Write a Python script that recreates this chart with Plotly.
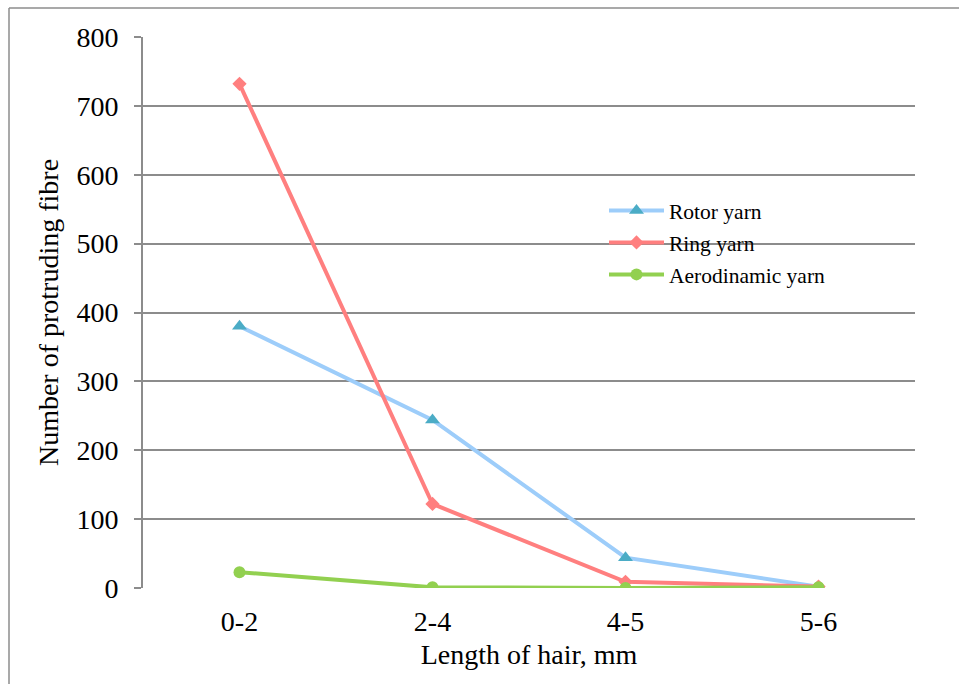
import plotly.graph_objects as go

categories = ["0-2", "2-4", "4-5", "5-6"]
rotor = [380, 244, 44, 2]
ring = [732, 122, 9, 2]
aero = [23, 1, 0, 1]
y_ticks = [0, 100, 200, 300, 400, 500, 600, 700, 800]

FONT = "Liberation Serif, DejaVu Serif, serif"

fig = go.Figure()
fig.add_trace(go.Scatter(x=categories, y=rotor, name="Rotor yarn", mode="lines+markers",
                         legendgroup="a",
                         line=dict(color="#9DCDFA", width=4),
                         marker=dict(symbol="triangle-up", size=13, color="#4BACC6")))
fig.add_trace(go.Scatter(x=categories, y=ring, name="Ring yarn", mode="lines+markers",
                         legendgroup="b",
                         line=dict(color="#FF7F7F", width=4),
                         marker=dict(symbol="diamond", size=11, color="#FF7F7F")))
fig.add_trace(go.Scatter(x=categories, y=aero, name="Aerodinamic yarn", mode="lines+markers",
                         legendgroup="c",
                         line=dict(color="#92D050", width=4),
                         marker=dict(symbol="circle", size=12, color="#92D050")))

W, H = 959, 684
L, R, T, B = 143, 44, 37, 96
pw, ph = W - L - R, H - T - B

def px(x):
    return (x - L) / pw

def py(y):
    return 1 - (y - T) / ph

fig.update_layout(
    width=W, height=H,
    margin=dict(l=L, r=R, t=T, b=B),
    paper_bgcolor="white", plot_bgcolor="white",
    font=dict(family=FONT, color="black", size=28),
    showlegend=True,
    legend=dict(x=px(604), y=py(190), xanchor="left", yanchor="top",
                font=dict(size=21.5, family=FONT), bgcolor="rgba(0,0,0,0)",
                tracegroupgap=1, itemwidth=55),
    xaxis=dict(type="category", categoryorder="array", categoryarray=categories,
               range=[-0.5, 3.5], showgrid=False, showline=False, ticks="",
               ticklabelstandoff=14,
               tickfont=dict(size=28), title=dict(text="Length of hair, mm", font=dict(size=28), standoff=8)),
    yaxis=dict(range=[0, 800], tickvals=y_ticks, showgrid=True, gridcolor="#8C8C8C", gridwidth=2,
               showline=True, linecolor="#8C8C8C", linewidth=2, ticks="outside", ticklen=7,
               tickcolor="#8C8C8C", tickwidth=2, zeroline=False, ticklabelstandoff=10,
               tickfont=dict(size=28), title=dict(text="Number of protruding fibre", font=dict(size=28), standoff=10)),
    shapes=[
        dict(type="line", xref="paper", yref="paper", x0=px(9), x1=px(970), y0=py(8), y1=py(8),
             line=dict(color="#8C8C8C", width=1.5)),
        dict(type="line", xref="paper", yref="paper", x0=px(9), x1=px(9), y0=py(8), y1=py(700),
             line=dict(color="#8C8C8C", width=1.5)),
    ],
)

fig.write_html("out.html", config={"displayModeBar": False},
               post_script="document.body.style.margin='0';document.body.style.overflow='hidden';")
